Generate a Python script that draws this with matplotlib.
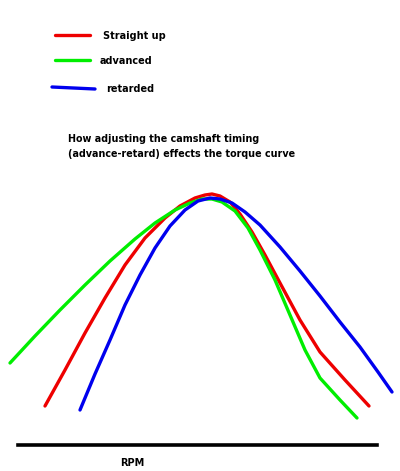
import matplotlib
matplotlib.use("Agg")
import matplotlib.pyplot as plt

# curve points (pixel-space of the drawing, y down)
red_x = [45, 65, 85, 105, 125, 145, 165, 180, 195, 205, 212, 220, 230, 240, 252, 265, 280, 300, 320, 345, 369]
red_y = [406, 370, 333, 298, 265, 238, 218, 206, 198, 195, 194, 196, 202, 214, 232, 255, 283, 320, 352, 380, 406]
green_x = [10, 35, 60, 85, 110, 135, 155, 175, 190, 202, 212, 222, 235, 248, 260, 275, 290, 305, 320, 340, 357]
green_y = [363, 336, 310, 285, 261, 239, 223, 210, 203, 199, 199, 202, 211, 228, 250, 280, 315, 350, 378, 400, 418]
blue_x = [80, 95, 110, 125, 140, 155, 170, 185, 198, 210, 220, 232, 245, 260, 280, 300, 320, 340, 360, 378, 392]
blue_y = [410, 374, 340, 305, 275, 248, 226, 210, 201, 198, 199, 203, 212, 225, 247, 271, 296, 322, 347, 372, 392]
labels = ["Straight up", "advanced", "retarded"]
title_lines = ["How adjusting the camshaft timing", "(advance-retard) effects the torque curve"]

fig = plt.figure(figsize=(4, 4.71), dpi=100)
ax = fig.add_axes([0, 0, 1, 1])
ax.set_xlim(0, 400)
ax.set_ylim(471, 0)
ax.axis("off")

lw = 2.4
ax.plot(red_x, red_y, color="#ee0000", lw=lw, solid_capstyle="round", solid_joinstyle="round")
ax.plot(green_x, green_y, color="#00ee00", lw=lw, solid_capstyle="round", solid_joinstyle="round")
ax.plot(blue_x, blue_y, color="#0000ee", lw=lw, solid_capstyle="round", solid_joinstyle="round")

ax.plot([55, 90], [35, 35], color="#ee0000", lw=lw, solid_capstyle="round")
ax.plot([55, 90], [60, 60], color="#00ee00", lw=lw, solid_capstyle="round")
ax.plot([52, 95], [87, 89], color="#0000ee", lw=lw, solid_capstyle="round")
ax.text(103, 36, labels[0], fontsize=7, fontweight="bold", va="center")
ax.text(100, 61, labels[1], fontsize=7, fontweight="bold", va="center")
ax.text(106, 89, labels[2], fontsize=7, fontweight="bold", va="center")

ax.text(68, 139, title_lines[0], fontsize=6.9, fontweight="bold", va="center")
ax.text(68, 154, title_lines[1], fontsize=6.9, fontweight="bold", va="center")

ax.plot([18, 377], [445, 445], color="black", lw=2.6)
ax.text(120, 463, "RPM", fontsize=7, fontweight="bold", va="center")

fig.savefig("out.png", dpi=100, facecolor="white")
